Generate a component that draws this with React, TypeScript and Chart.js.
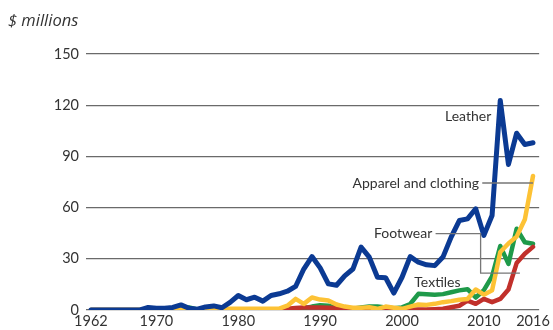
import React, { useEffect, useRef } from "react";
import { Chart, registerables } from "chart.js";

Chart.register(...registerables);

const years = [
  1962, 1963, 1964, 1965, 1966, 1967, 1968, 1969, 1970, 1971, 1972, 1973, 1974, 1975,
  1976, 1977, 1978, 1979, 1980, 1981, 1982, 1983, 1984, 1985, 1986, 1987, 1988, 1989,
  1990, 1991, 1992, 1993, 1994, 1995, 1996, 1997, 1998, 1999, 2000, 2001, 2002, 2003,
  2004, 2005, 2006, 2007, 2008, 2009, 2010, 2011, 2012, 2013, 2014, 2015, 2016,
];

const leather = [
  0, 0, 0, 0, 0, 0, 0, 1.5, 1, 1, 1.5, 3, 1, 0.5,
  1.8, 2.4, 1.3, 4.5, 8.5, 6, 7.5, 5.2, 8.5, 9.5, 11, 13.8, 24, 31.3,
  24.7, 15.3, 14.5, 20, 24, 36.8, 31, 19.2, 18.9, 9.9, 19.2, 31.3, 28, 26.5,
  26, 31, 42.7, 52.4, 53.4, 59.3, 43.7, 55.4, 122.8, 85.3, 103.6, 97, 98,
];

const apparel = [
  0, 0, 0, 0, 0, 0, 0, 0.5, 0.5, 0.3, 0.5, 1.5, 0.5, 0.3,
  0.5, 0.8, 0.5, 0.8, 0.7, 0.7, 0.7, 0.7, 0.7, 0.8, 2.5, 6.5, 3.6, 7.3,
  6.1, 5.6, 3.2, 2, 1.3, 1.3, 1.6, 0.7, 2, 1.3, 0.7, 2, 3.2, 3,
  3.6, 4.6, 5.2, 6, 6.5, 12, 9, 11.5, 34, 39, 43, 53, 78.5,
];

const footwear = [
  0, 0, 0, 0, 0, 0, 0, 0, 0, 0, 0, 0.5, 1.5, 0.3,
  0.3, 0.3, 0.3, 0.3, 0.3, 0.3, 0.3, 0.3, 0.3, 0.3, 0.3, 0.5, 1, 2,
  2.8, 2.5, 1.2, 0.8, 0.8, 1.5, 2, 2, 1.5, 1, 1.5, 3.5, 9.5, 9.3,
  9, 9.3, 10.4, 11.5, 12.2, 7.3, 11.6, 19.7, 37.5, 27, 47.6, 39.7, 38.8,
];

const textiles = [
  0, 0, 0, 0, 0, 0, 0, 0, 0, 0, 0, 0, 0, 0,
  0, 0, 0, 0, 0, 0, 0, 0, 0, 0, 0.8, 1.2, 1.5, 1.5,
  1.5, 1.3, 1.2, 1, 0.8, 0.6, 0.6, 0.5, 0.5, 0.4, 0.3, 0.3, 0.3, 0.3,
  0.5, 0.8, 1.6, 2.5, 5.5, 3.6, 6.5, 4.6, 6.5, 12, 27.5, 33, 37,
];

const xTickYears = [1962, 1970, 1980, 1990, 2000, 2010, 2016];
const yTicks = [0, 30, 60, 90, 120, 150];
const unitLabel = "$ millions";

const FONT = "Lato, 'Open Sans', sans-serif";
const TEXT = "#333333";

const toXY = (vals: number[]) => vals.map((v, i) => ({ x: years[i], y: v }));

const annotationPlugin = {
  id: "annotations",
  afterDatasetsDraw(chart: any) {
    const { ctx } = chart;
    const xs = chart.scales.x;
    const ys = chart.scales.y;
    const px = (v: number) => xs.getPixelForValue(v);
    const py = (v: number) => ys.getPixelForValue(v);
    ctx.save();
    ctx.font = `14px ${FONT}`;
    ctx.fillStyle = TEXT;
    ctx.textBaseline = "middle";
    ctx.textAlign = "right";
    ctx.fillText("Leather", px(2010.9), py(113.4));
    ctx.fillText("Apparel and clothing", px(2009.4), py(74.4));
    ctx.fillText("Footwear", px(2003.7), py(44.8));
    ctx.textAlign = "left";
    ctx.fillText("Textiles", px(2001.5), py(16.3));

    ctx.strokeStyle = "#777777";
    ctx.lineWidth = 1.3;
    ctx.beginPath();
    ctx.moveTo(px(2009.8), py(74.4));
    ctx.lineTo(px(2016), py(74.4));
    ctx.moveTo(px(2004.1), py(44.8));
    ctx.lineTo(px(2009.6), py(44.8));
    ctx.lineTo(px(2009.6), py(21.6));
    ctx.lineTo(px(2014.4), py(21.6));
    ctx.stroke();

    ctx.font = `italic 16.5px 'Open Sans', Lato, sans-serif`;
    ctx.textAlign = "left";
    ctx.fillText(unitLabel, 8, 21);
    ctx.restore();
  },
};

export default function App() {
  const ref = useRef<HTMLCanvasElement | null>(null);
  useEffect(() => {
    if (!ref.current) return;
    const line = (label: string, data: number[], color: string, width: number) => ({
      label,
      data: toXY(data),
      borderColor: color,
      backgroundColor: color,
      borderWidth: width,
      pointRadius: 0,
      tension: 0,
      borderJoinStyle: "round" as const,
      borderCapStyle: "round" as const,
      fill: false,
    });
    const chart = new Chart(ref.current, {
      type: "line",
      data: {
        datasets: [
          line("Leather", leather, "#0b3a93", 5),
          line("Apparel and clothing", apparel, "#fdc235", 4.5),
          line("Textiles", textiles, "#c1302b", 4.5),
          line("Footwear", footwear, "#1f9a4a", 4.5),
        ],
      },
      options: {
        animation: false,
        responsive: false,
        maintainAspectRatio: false,
        layout: { padding: { left: 0, right: 13, top: 54, bottom: 0 } },
        plugins: { legend: { display: false }, tooltip: { enabled: false } },
        scales: {
          x: {
            type: "linear",
            min: 1961.4,
            max: 2016.75,
            afterBuildTicks: (s: any) => {
              s.ticks = xTickYears.map((v) => ({ value: v }));
            },
            afterFit: (s: any) => {
              s.height = 20;
            },
            grid: { display: false, drawTicks: false },
            border: { display: false },
            ticks: {
              autoSkip: false,
              maxRotation: 0,
              padding: 3,
              color: TEXT,
              font: { family: FONT, size: 14.5 },
              callback: (v: any) => String(v),
            },
          },
          y: {
            min: 0,
            max: 150,
            afterBuildTicks: (s: any) => {
              s.ticks = yTicks.map((v) => ({ value: v }));
            },
            afterFit: (s: any) => {
              s.width = 86;
            },
            grid: { color: "#6a6a6a", lineWidth: 1.3, drawTicks: false },
            border: { display: false },
            ticks: {
              padding: 7,
              color: TEXT,
              font: { family: FONT, size: 14.5 },
            },
          },
        },
      },
      plugins: [annotationPlugin],
    });
    return () => chart.destroy();
  }, []);
  return (
    <div style={{ position: "fixed", left: 0, top: 0, width: 553, height: 330, background: "#fff" }}>
      <canvas ref={ref} width={553} height={330} style={{ display: "block" }} />
    </div>
  );
}
